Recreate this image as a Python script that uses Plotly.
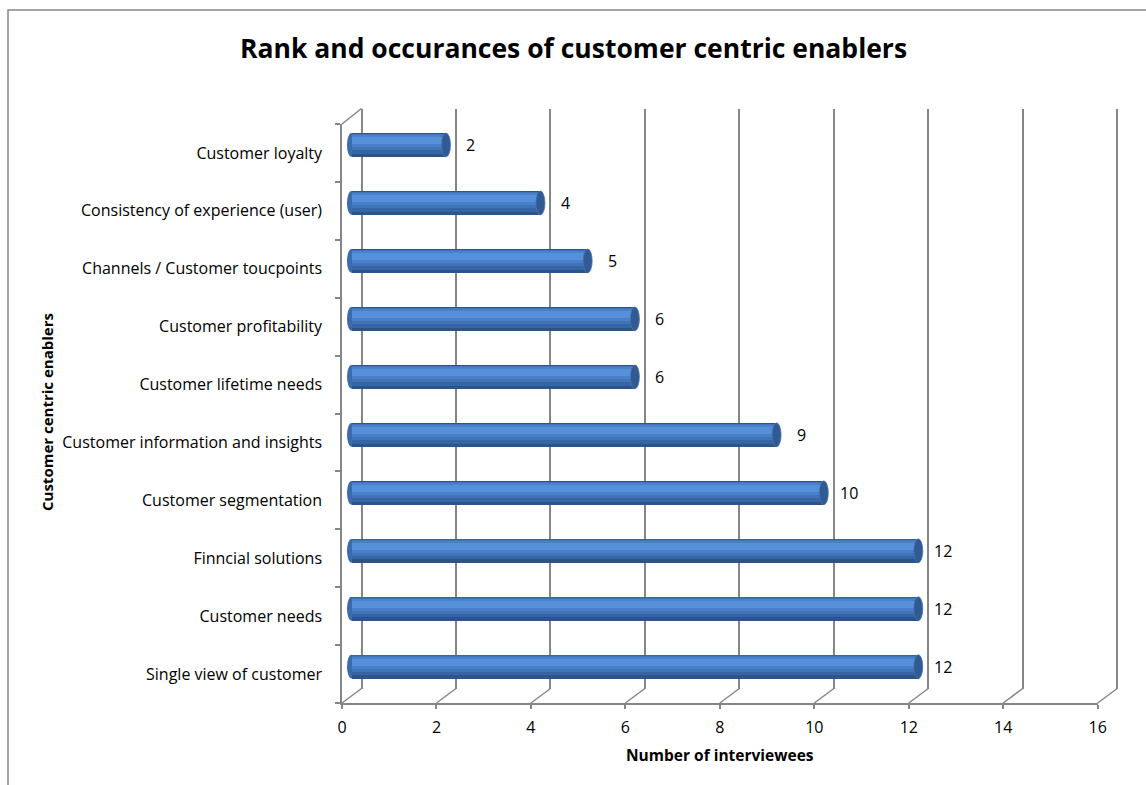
import plotly.graph_objects as go

# ---------------- data ----------------
categories = [
    "Single view of customer",
    "Customer needs",
    "Finncial solutions",
    "Customer segmentation",
    "Customer information and insights",
    "Customer lifetime needs",
    "Customer profitability",
    "Channels / Customer toucpoints",
    "Consistency of experience (user)",
    "Customer loyalty",
]
values = [12, 12, 12, 10, 9, 6, 6, 5, 4, 2]
x_ticks = [0, 2, 4, 6, 8, 10, 12, 14, 16]
x_max = 16

title_text = "Rank and occurances of customer centric enablers"
x_title = "Number of interviewees"
y_title = "Customer centric enablers"

# ---------------- layout geometry ----------------
W, H = 1146, 785
FONT = "Open Sans"
GRAY = "#868686"
PXU = (1097.7 - 342) / x_max  # pixels per unit on the value axis


def px_x(a, b):
    return [a / W, b / W]


def px_y(top, bottom):
    return [1 - bottom / H, 1 - top / H]


front_x = px_x(342, 1097.7)
front_y = px_y(124, 703)
BACK_PAD = 0.06  # small range extension so the last back gridline is kept
back_x = px_x(361.5, 1117.2 + BACK_PAD * PXU)
back_y = px_y(108.5, 688.5)
MID_PAD = 12  # extra pixels left of zero so the rounded starts are not clipped
mid_x = px_x(351.5 - MID_PAD, 1107.2)
mid_y = px_y(116.0, 695.7)

fig = go.Figure()

# placeholders so the front-axis subplot and the back-wall subplot are drawn
fig.add_trace(go.Scatter(x=[None], y=[None], xaxis="x", yaxis="y",
                         hoverinfo="skip", showlegend=False))
fig.add_trace(go.Scatter(x=[None], y=[None], xaxis="x2", yaxis="y2",
                         hoverinfo="skip", showlegend=False))

# cylinder-like bars built from overlaid layers (dark rim -> bright highlight)
layers = [
    (-0.205, 0.41, "#2D5488"),
    (-0.15, 0.345, "#3665A3"),
    (-0.09, 0.275, "#4173B8"),
    (-0.04, 0.21, "#4A80C9"),
    (0.01, 0.13, "#5790DA"),
]
for off, wid, col in layers:
    fig.add_trace(go.Bar(
        x=values, y=categories, orientation="h",
        xaxis="x3", yaxis="y3",
        width=wid, offset=off,
        marker=dict(color=col, line=dict(width=0)),
        hoverinfo="x+y", showlegend=False,
    ))

shapes = []
# start caps / end caps of cylinders
for i, (c, v) in enumerate(zip(categories, values)):
    shapes.append(dict(
        type="circle", xref="x3", yref="y3", layer="below",
        xsizemode="pixel", xanchor=0, x0=-4.5, x1=4.5,
        y0=i - 0.205, y1=i + 0.205,
        fillcolor="#3A6BAE", line=dict(width=0),
    ))
    shapes.append(dict(
        type="circle", xref="x3", yref="y3",
        xsizemode="pixel", xanchor=v, x0=-4.5, x1=4.5,
        y0=i - 0.205, y1=i + 0.205,
        fillcolor="#2F5A92", line=dict(color="#4A74AE", width=0.8),
    ))

# 3D floor diagonals from front axis to back wall (axis-domain refs, unclipped)
for t in x_ticks:
    shapes.append(dict(
        type="line", xref="x domain", yref="y domain",
        xsizemode="pixel", xanchor=t / x_max, x0=0, x1=19.5,
        ysizemode="pixel", yanchor=0, y0=0, y1=14.5,
        line=dict(color=GRAY, width=1.5),
    ))
# top-left diagonal of the side wall
shapes.append(dict(
    type="line", xref="x domain", yref="y domain",
    xsizemode="pixel", xanchor=0, x0=0, x1=19.5,
    ysizemode="pixel", yanchor=1, y0=0, y1=15.5,
    line=dict(color=GRAY, width=1.5),
))
# chart border (left and top visible)
shapes.append(dict(
    type="rect", xref="paper", yref="paper",
    x0=8 / W, x1=1.2, y0=-0.2, y1=1 - 10 / H,
    line=dict(color=GRAY, width=1.5), fillcolor="rgba(0,0,0,0)",
))

annotations = []
for c, v in zip(categories, values):
    annotations.append(dict(
        x=v, y=c, xref="x3", yref="y3", text=str(v),
        showarrow=False, xshift=25, xanchor="center",
        font=dict(family=FONT, size=16, color="#000000"),
    ))
annotations.append(dict(
    x=573 / W, y=1 - 48 / H, xref="paper", yref="paper",
    text="<b>" + title_text + "</b>", showarrow=False,
    xanchor="center", yanchor="middle",
    font=dict(family=FONT, size=26.5, color="#000000"),
))
annotations.append(dict(
    x=720 / W, y=1 - 755 / H, xref="paper", yref="paper",
    text="<b>" + x_title + "</b>", showarrow=False,
    xanchor="center", yanchor="middle",
    font=dict(family=FONT, size=15.5, color="#000000"),
))
annotations.append(dict(
    x=47 / W, y=1 - 412 / H, xref="paper", yref="paper",
    text="<b>" + y_title + "</b>", showarrow=False, textangle=-90,
    xanchor="center", yanchor="middle",
    font=dict(family=FONT, size=15, color="#000000"),
))

fig.update_layout(
    width=W, height=H, autosize=False,
    margin=dict(l=0, r=0, t=0, b=0, pad=0, autoexpand=False),
    paper_bgcolor="white", plot_bgcolor="rgba(0,0,0,0)",
    barmode="overlay", bargap=0,
    showlegend=False,
    font=dict(family=FONT, size=16, color="#000000"),
    shapes=shapes, annotations=annotations,
    # front axes
    xaxis=dict(
        domain=front_x, anchor="y", range=[0, x_max], tickvals=x_ticks,
        automargin=False,
        showgrid=False, zeroline=False,
        showline=True, linecolor=GRAY, linewidth=1.5,
        ticks="outside", ticklen=4, tickcolor=GRAY, tickwidth=1.5,
        tickfont=dict(family=FONT, size=16, color="#000000"),
        ticklabelstandoff=5,
    ),
    yaxis=dict(
        domain=front_y, anchor="x", type="category",
        categoryorder="array", categoryarray=categories,
        range=[-0.5, 9.5], tickson="boundaries", automargin=False,
        showgrid=False, zeroline=False,
        showline=True, linecolor=GRAY, linewidth=1.5,
        ticks="outside", ticklen=5, tickcolor=GRAY, tickwidth=1.5,
        tickfont=dict(family=FONT, size=16, color="#000000"),
        ticklabelstandoff=15,
    ),
    # back wall
    xaxis2=dict(
        domain=back_x, anchor="y2", range=[0, x_max + BACK_PAD], tickvals=x_ticks,
        automargin=False,
        showgrid=True, gridcolor=GRAY, gridwidth=1.5,
        zeroline=True, zerolinecolor=GRAY, zerolinewidth=1.5,
        showline=False, showticklabels=False, ticks="",
    ),
    yaxis2=dict(
        domain=back_y, anchor="x2", type="category",
        categoryorder="array", categoryarray=categories,
        range=[-0.5, 9.5], showgrid=False, zeroline=False, automargin=False,
        showline=False, showticklabels=False, ticks="",
    ),
    # middle plane for the bars
    xaxis3=dict(
        domain=mid_x, anchor="y3", range=[-MID_PAD / PXU, x_max],
        visible=False, automargin=False,
    ),
    yaxis3=dict(
        domain=mid_y, anchor="x3", type="category",
        categoryorder="array", categoryarray=categories,
        range=[-0.5, 9.5], visible=False, automargin=False,
    ),
)

fig.write_html("out.html", config={"displayModeBar": False},
               post_script="document.body.style.margin='0';")
